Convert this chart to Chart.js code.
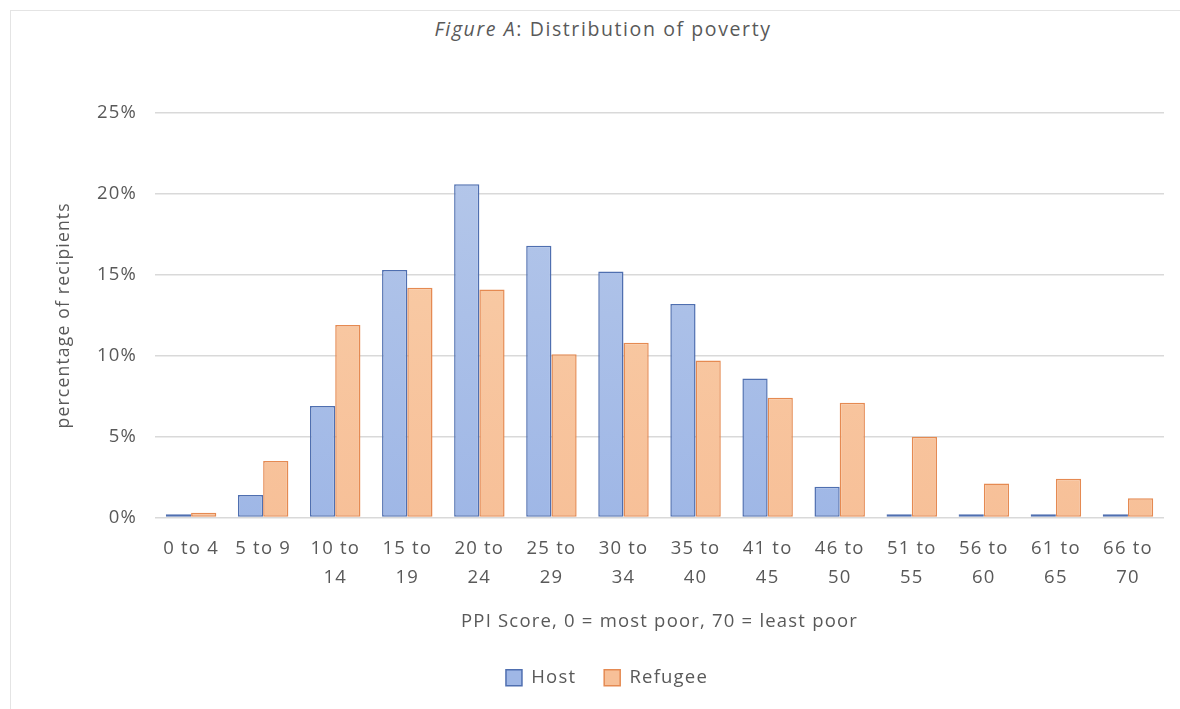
<!DOCTYPE html>
<html>
<head>
<meta charset="utf-8">
<script src="https://cdn.jsdelivr.net/npm/chart.js@4/dist/chart.umd.min.js"></script>
<style>
  body { margin: 0; background: #fff; }
  #wrap { position: relative; width: 1180px; height: 709px; }
  #frame { position: absolute; left: 10px; top: 10px; right: 0; bottom: 0;
           border-left: 1px solid #e4e4e4; border-top: 1px solid #e4e4e4; }
  #title { position: absolute; left: 0; width: 1206px; top: 15px; text-align: center;
           font-family: "Open Sans", sans-serif; font-size: 19.5px; letter-spacing: 1.6px; color: #595959; }
  canvas { position: absolute; left: 0; top: 0; }
</style>
</head>
<body>
<div id="wrap">
  <div id="frame"></div>
  <div id="title"><i>Figure A</i>: Distribution of poverty</div>
  <canvas id="myChart" width="1180" height="709"></canvas>
</div>
<script>
const labels = ["0 to 4", "5 to 9", ["10 to", "14"], ["15 to", "19"], ["20 to", "24"], ["25 to", "29"],
  ["30 to", "34"], ["35 to", "40"], ["41 to", "45"], ["46 to", "50"], ["51 to", "55"],
  ["56 to", "60"], ["61 to", "65"], ["66 to", "70"]];
const hostValues = [0.2, 1.4, 6.9, 15.3, 20.6, 16.8, 15.2, 13.2, 8.6, 1.9, 0.2, 0.2, 0.2, 0.2];
const refugeeValues = [0.3, 3.5, 11.9, 14.2, 14.1, 10.1, 10.8, 9.7, 7.4, 7.1, 5.0, 2.1, 2.4, 1.2];
const yTicks = [0, 5, 10, 15, 20, 25];

function grad(ctx, top, bottom) {
  const chart = ctx.chart;
  const area = chart.chartArea;
  if (!area) return bottom;
  const g = chart.ctx.createLinearGradient(0, area.top, 0, area.bottom);
  g.addColorStop(0, top);
  g.addColorStop(1, bottom);
  return g;
}

// the source text is set wider than Open Sans, so space the letters a little
const spacing = {
  id: "spacing",
  beforeUpdate: (chart) => { chart.ctx.letterSpacing = "1.2px"; },
  beforeDraw: (chart) => { chart.ctx.letterSpacing = "1.2px"; },
};

const font = { family: "'Open Sans', sans-serif", size: 18.5 };

const data = {
  labels: labels,
  datasets: [
    {
      label: "Host",
      data: hostValues,
      backgroundColor: (c) => grad(c, "#b7c9ea", "#9fb7e6"),
      borderColor: "#4f6fb0",
      borderWidth: 1.5,
      borderSkipped: false,
    },
    {
      label: "Refugee",
      data: refugeeValues,
      backgroundColor: (c) => grad(c, "#f9cfab", "#f7c098"),
      borderColor: "#e58a52",
      borderWidth: 1.5,
      borderSkipped: false,
    },
  ],
};

const config = {
  type: "bar",
  data: data,
  plugins: [spacing],
  options: {
    responsive: false,
    animation: false,
    categoryPercentage: 0.7,
    barPercentage: 1,
    layout: { padding: { left: 50, right: 16, top: 113, bottom: 12 } },
    scales: {
      x: {
        grid: { display: false },
        border: { display: false },
        ticks: { color: "#595959", font: { ...font, lineHeight: 1.56 }, maxRotation: 0, padding: 9 },
        title: {
          display: true,
          text: "PPI Score, 0 = most poor, 70 = least poor",
          color: "#595959",
          font: font,
          padding: { top: 9, bottom: 8 },
        },
      },
      y: {
        min: 0,
        max: 25,
        afterBuildTicks: (axis) => { axis.ticks = yTicks.map((v) => ({ value: v })); },
        grid: { color: "#d9d9d9", lineWidth: 1.5, drawTicks: false },
        border: { display: false },
        ticks: { color: "#595959", font: font, padding: 18, callback: (v) => v + "%" },
        title: {
          display: true,
          text: "percentage of recipients",
          color: "#595959",
          font: { ...font, size: 17.5 },
          padding: { bottom: 4 },
        },
      },
    },
    plugins: {
      title: { display: false },
      tooltip: { enabled: false },
      legend: {
        display: true,
        position: "bottom",
        labels: { color: "#595959", font: font, boxWidth: 16, boxHeight: 16, padding: 28 },
      },
    },
  },
};

const myChart = new Chart(document.getElementById("myChart"), config);
</script>
</body>
</html>
